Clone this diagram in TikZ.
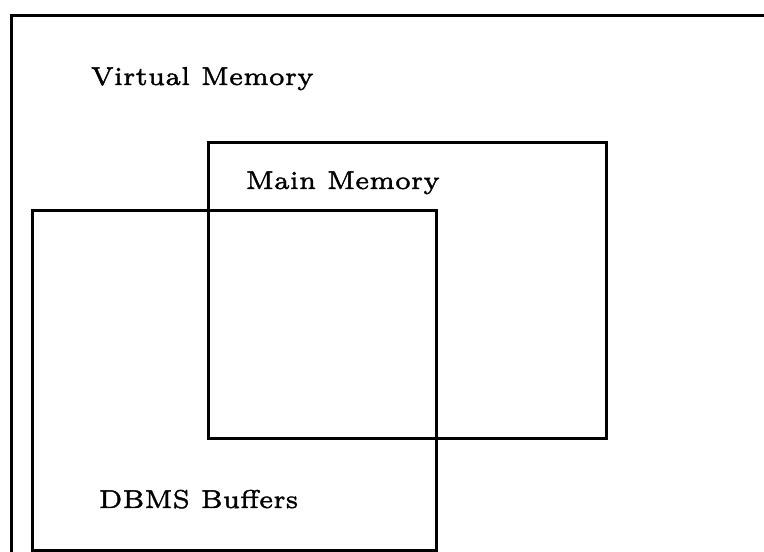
\documentclass[tikz,border=0pt]{standalone}
% heavier glyphs: fill and stroke the text outlines
\newcommand{\heavytext}[1]{\special{pdf:literal direct 2 Tr 0.09 w}#1\special{pdf:literal direct 0 Tr}}
\begin{document}
\begin{tikzpicture}[x=1pt,y=1pt,
  frame/.style={draw=black,line width=3pt,line join=miter},
  label/.style={anchor=base west,inner sep=0pt,font=\fontsize{6}{7}\selectfont,scale=4.3}]
\useasboundingbox (0,0) rectangle (764,552);
\fill[white] (0,0) rectangle (764,552);
% outer region (virtual memory), cut off on the right and bottom
\begin{scope}
  \clip (0,0) rectangle (764,552);
  \draw[frame] (11,-5) -- (11,536) -- (770,536);
  % main memory
  \draw[frame] (208,409) rectangle (606,113);
  % DBMS buffers
  \draw[frame] (32,341) rectangle (436,1);
\end{scope}
\node[label] (vm) at (90,467) {\heavytext{Virtual Memory}};
\node[label] (mm) at (245,363) {\heavytext{Main Memory}};
\node[label] (db) at (98,44) {\heavytext{DBMS Buffers}};
\end{tikzpicture}
\end{document}
